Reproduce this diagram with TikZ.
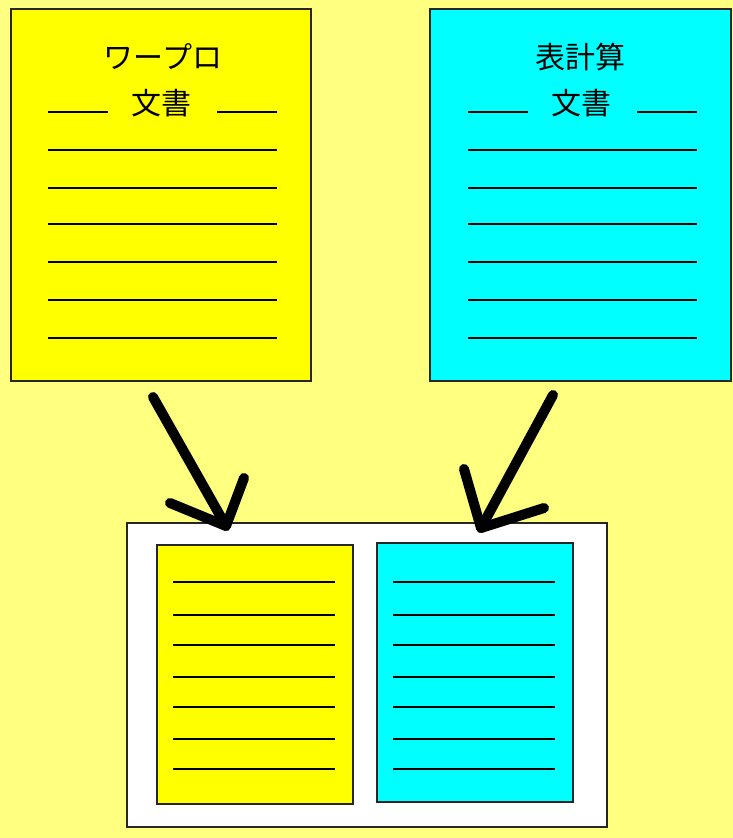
\documentclass[tikz,border=0pt]{standalone}
\usepackage{fontspec}
\newfontfamily\jpfont{Noto Sans CJK JP}
\definecolor{bgyellow}{HTML}{FFFF80}
\definecolor{docyellow}{HTML}{FFFF00}
\definecolor{doccyan}{HTML}{00FFFF}
\begin{document}
\begin{tikzpicture}[x=1pt,y=-1pt,
  doc/.style={draw=black!85,line width=1.6pt,anchor=north west,inner sep=0pt},
  rule/.style={draw=black,line width=1.6pt},
  title/.style={font=\jpfont\fontsize{30}{34}\selectfont,inner sep=0pt,anchor=center},
  bigarrow/.style={draw=black,line width=10pt,line cap=round,line join=round}]
\useasboundingbox (0,0) rectangle (733,838);
\fill[bgyellow] (0,0) rectangle (733,838);
% top documents
\node[doc,fill=docyellow,minimum width=300pt,minimum height=372pt] (wp) at (10,8) {};
\node[doc,fill=doccyan,minimum width=301pt,minimum height=372pt] (ss) at (429,8) {};
\node[title] (wpt) at (163,57) {ワープロ};
\node[title] (wpd) at (161,103) {文書};
\node[title] (sst) at (580,57) {表計算};
\node[title] (ssd) at (581,103) {文書};
% heading rules
\draw[rule] (48,112) -- (108,112) (217,112) -- (277,112);
\draw[rule] (468,112) -- (528,112) (637,112) -- (697,112);
\foreach \y in {150,188,224,262,300,338}{
  \draw[rule] (48,\y) -- (277,\y);
  \draw[rule] (468,\y) -- (697,\y);
}
% bottom container
\node[doc,fill=white,minimum width=480pt,minimum height=304pt] (box) at (126,522) {};
\node[doc,fill=docyellow,minimum width=196pt,minimum height=259pt] (iy) at (156,544) {};
\node[doc,fill=doccyan,minimum width=196pt,minimum height=259pt] (ic) at (376,542) {};
\foreach \y in {582,615,645,677,707,739,769}{
  \draw[rule] (173,\y) -- (335,\y);
  \draw[rule] (393,\y) -- (555,\y);
}
% arrows
\coordinate (la) at (153,397);
\coordinate (lt) at (226,526);
\coordinate (la1) at (170,503);
\coordinate (la2) at (244,478);
\coordinate (ra) at (553,395);
\coordinate (rt) at (481,528);
\coordinate (ra1) at (464,469);
\coordinate (ra2) at (544,508);
\draw[bigarrow] (la) -- (lt);
\draw[bigarrow] (la1) -- (lt) -- (la2);
\draw[bigarrow] (ra) -- (rt);
\draw[bigarrow] (ra1) -- (rt) -- (ra2);
\end{tikzpicture}
\end{document}
